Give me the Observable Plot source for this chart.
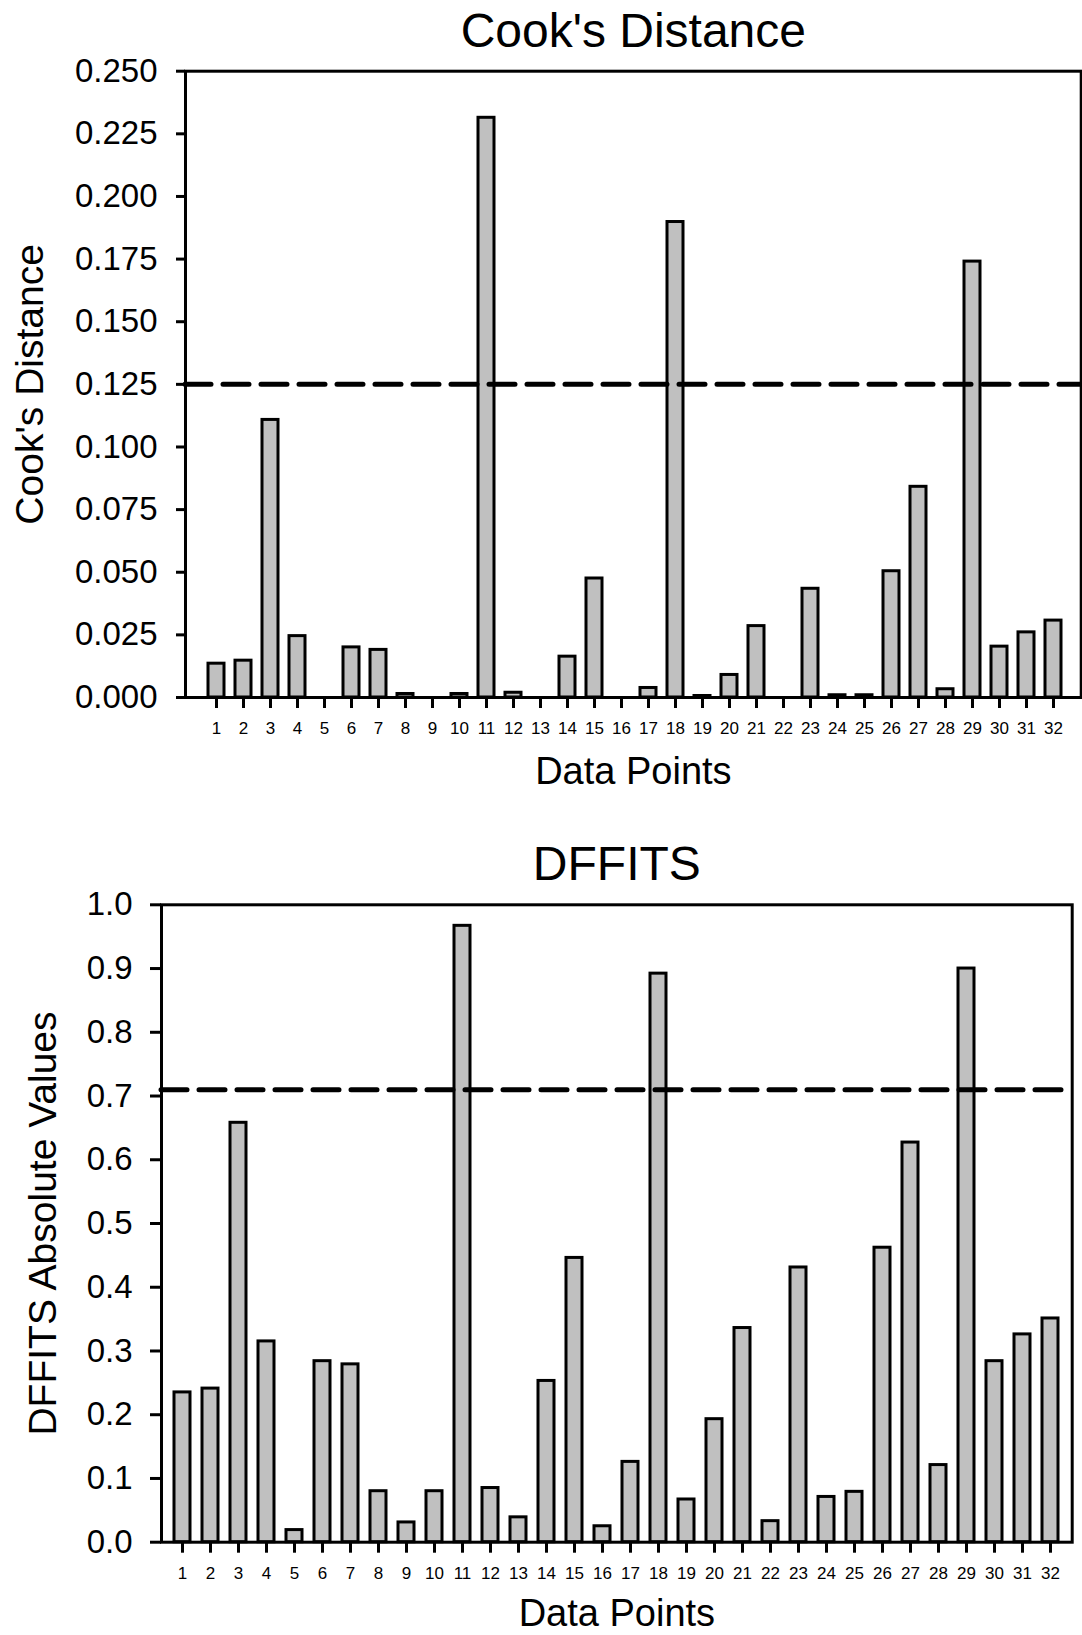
<!DOCTYPE html>
<html>
<head>
<meta charset="utf-8">
<script src="https://cdn.jsdelivr.net/npm/d3@7"></script>
<script src="https://cdn.jsdelivr.net/npm/@observablehq/plot@0.6"></script>
<style>
  body { margin: 0; background: #fff; }
  svg { display: block; }
</style>
</head>
<body>
<div id="chart"></div>
<script>
const points = d3.range(1, 33);
const cooks = [0.0135, 0.0147, 0.1108, 0.0245, 0, 0.0200, 0.0190, 0.0014, 0, 0.0014,
               0.2314, 0.0019, 0, 0.0163, 0.0475, 0, 0.0038, 0.1898, 0.0006, 0.0090,
               0.0285, 0, 0.0434, 0.0009, 0.0009, 0.0504, 0.0841, 0.0033, 0.1740, 0.0203,
               0.0260, 0.0307];
const dffits = [0.235, 0.241, 0.658, 0.315, 0.019, 0.284, 0.279, 0.080, 0.031, 0.080,
                0.967, 0.085, 0.039, 0.253, 0.446, 0.025, 0.126, 0.892, 0.067, 0.193,
                0.336, 0.033, 0.431, 0.071, 0.079, 0.462, 0.627, 0.121, 0.900, 0.284,
                0.326, 0.351];
const cooksTicks = [0, 0.025, 0.05, 0.075, 0.1, 0.125, 0.15, 0.175, 0.2, 0.225, 0.25];
const dffitsTicks = [0, 0.1, 0.2, 0.3, 0.4, 0.5, 0.6, 0.7, 0.8, 0.9, 1.0];
const cooksCutoff = 0.125;
const dffitsCutoff = 0.71;

const font = "'Liberation Sans', Arial, Helvetica, sans-serif";
const cooksData = points.map((p, i) => ({point: p, value: cooks[i]}));
const dffitsData = points.map((p, i) => ({point: p, value: dffits[i]}));

const dash = {stroke: "black", strokeWidth: 5, strokeDasharray: "26,12", strokeLinecap: "round"};
const barStyle = {fill: "#c0c0c0", stroke: "black", strokeWidth: 3};

const cooksChart = Plot.plot({
  width: 1082, height: 800,
  marginTop: 70.7, marginBottom: 103, marginLeft: 185, marginRight: 1.3,
  style: {fontFamily: font, background: "white", color: "black", overflow: "visible"},
  x: {type: "band", domain: points, range: [193.2, 1075.5], paddingInner: 0.42, paddingOuter: 0.21},
  y: {domain: [0, 0.25], range: [697, 70.7]},
  marks: [
    Plot.barY(cooksData, {x: "point", y: "value", ...barStyle}),
    Plot.ruleY([cooksCutoff], dash),
    Plot.frame({stroke: "black", strokeWidth: 3}),
    Plot.axisY({ticks: cooksTicks, tickFormat: d3.format(".3f"), tickSize: 9, tickPadding: 19,
                fontSize: 33, strokeWidth: 3, label: null, fill: "black"}),
    Plot.axisX({tickSize: 11, tickPadding: 13, fontSize: 17, strokeWidth: 3, label: null, fill: "black"}),
    Plot.text(["Cook's Distance"], {text: d => d, frameAnchor: "top", dy: -23.7, lineAnchor: "bottom", fontSize: 48, fill: "black"}),
    Plot.text(["Data Points"], {text: d => d, frameAnchor: "bottom", dy: 86, lineAnchor: "bottom", fontSize: 38, fill: "black"}),
    Plot.text(["Cook's Distance"], {text: d => d, frameAnchor: "left", dx: -143, rotate: -90, textAnchor: "middle", lineAnchor: "bottom", fontSize: 39, fill: "black"})
  ]
});

const dffitsChart = Plot.plot({
  width: 1082, height: 835,
  marginTop: 104.3, marginBottom: 93.3, marginLeft: 161, marginRight: 10.3,
  style: {fontFamily: font, background: "white", color: "black", overflow: "visible"},
  x: {type: "band", domain: points, range: [167.5, 1064.5], paddingInner: 0.43, paddingOuter: 0.215},
  y: {domain: [0, 1], range: [741.7, 104.3]},
  marks: [
    Plot.barY(dffitsData, {x: "point", y: "value", ...barStyle}),
    Plot.ruleY([dffitsCutoff], dash),
    Plot.frame({stroke: "black", strokeWidth: 3}),
    Plot.axisY({ticks: dffitsTicks, tickFormat: d3.format(".1f"), tickSize: 11, tickPadding: 18,
                fontSize: 33, strokeWidth: 3, label: null, fill: "black"}),
    Plot.axisX({tickSize: 11, tickPadding: 14, fontSize: 17, strokeWidth: 3, label: null, fill: "black"}),
    Plot.text(["DFFITS"], {text: d => d, frameAnchor: "top", dy: -25.3, lineAnchor: "bottom", fontSize: 48, fill: "black"}),
    Plot.text(["Data Points"], {text: d => d, frameAnchor: "bottom", dy: 84, lineAnchor: "bottom", fontSize: 38, fill: "black"}),
    Plot.text(["DFFITS Absolute Values"], {text: d => d, frameAnchor: "left", dx: -106, rotate: -90, textAnchor: "middle", lineAnchor: "bottom", fontSize: 39, fill: "black"})
  ]
});

const chart = document.getElementById("chart");
chart.appendChild(cooksChart);
chart.appendChild(dffitsChart);
</script>
</body>
</html>
